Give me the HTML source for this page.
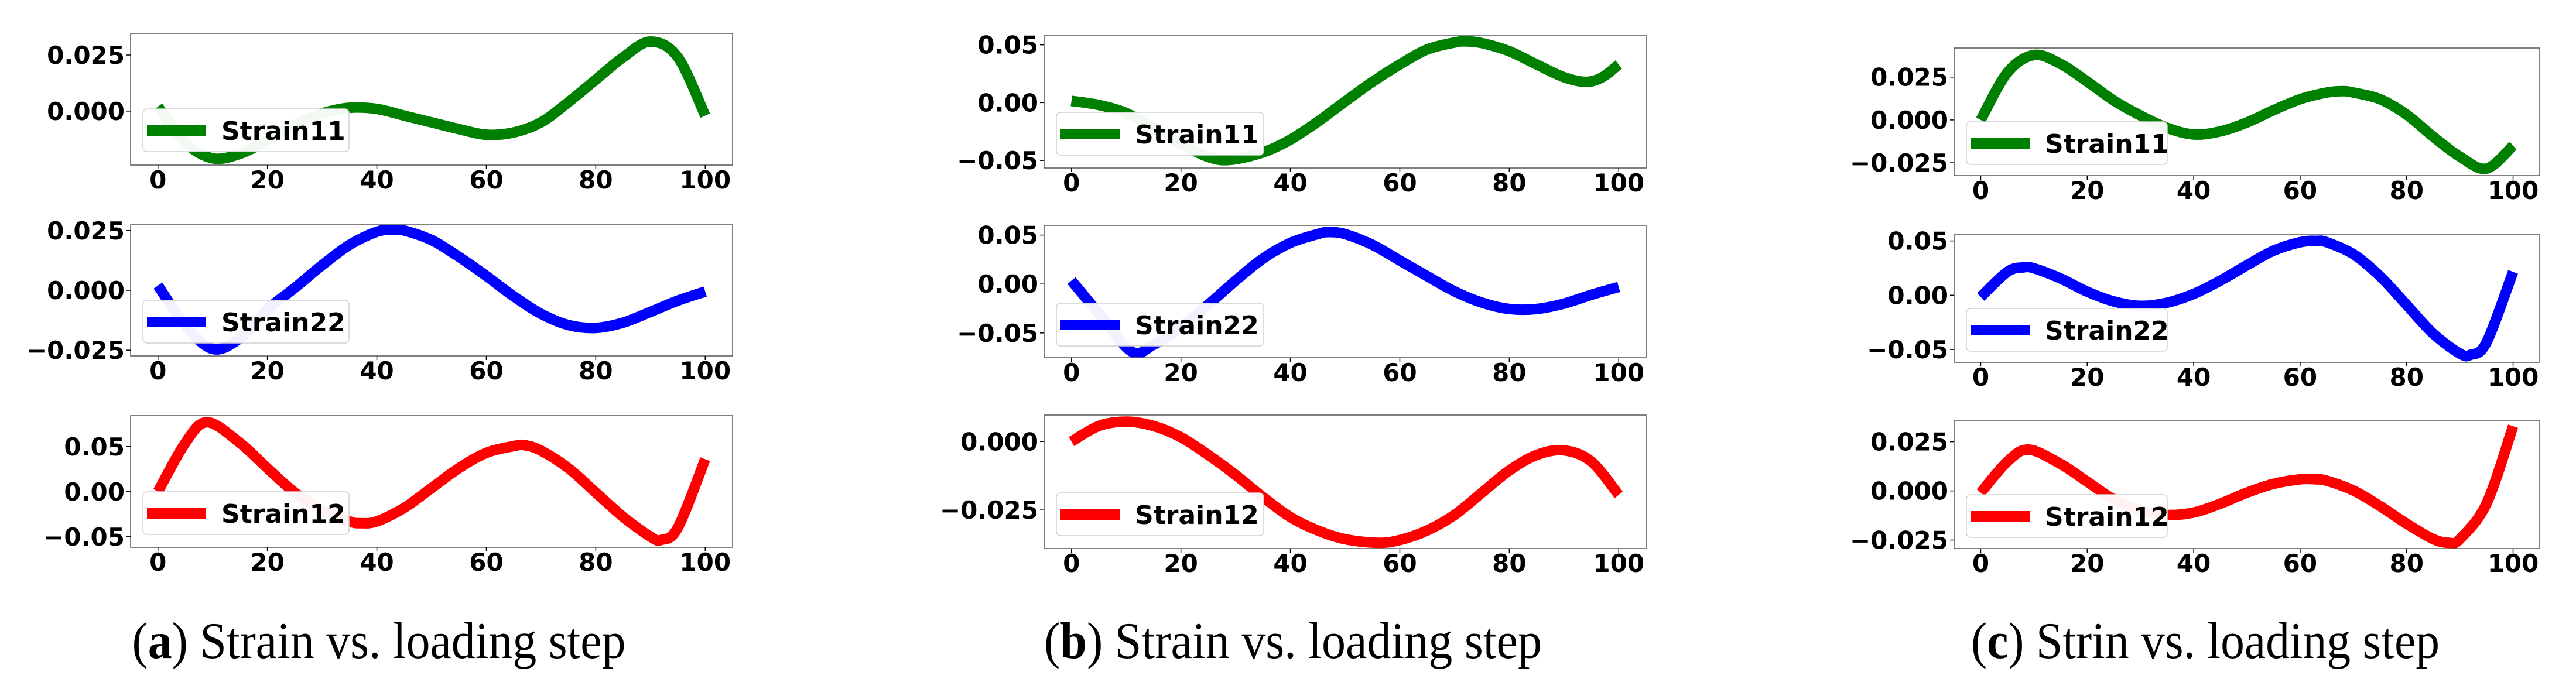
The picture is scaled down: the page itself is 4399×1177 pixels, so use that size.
<!DOCTYPE html>
<html><head><meta charset="utf-8">
<style>
html,body{margin:0;padding:0;background:#fff;}
svg{display:block;}
.tick{font-family:"DejaVu Sans","Liberation Sans",sans-serif;font-weight:bold;font-size:42px;fill:#000;}
.legt{font-family:"DejaVu Sans","Liberation Sans",sans-serif;font-weight:bold;font-size:44px;fill:#000;}
.cap{font-family:"Liberation Serif",serif;font-size:88px;fill:#000;}
</style></head>
<body>
<svg id="fig" width="4399" height="1177" viewBox="0 0 4399 1177" xmlns="http://www.w3.org/2000/svg"></svg>
<script>
// ---- data (x = loading step, y = strain) ----
const a11x=[0,5,10,15,20,25,30,35,40,45,50,55,60,65,70,75,80,85,90,95,100];
const a11y=[0.002,-0.014,-0.021,-0.019,-0.013,-0.006,-0.001,0.0015,0.001,-0.002,-0.005,-0.008,-0.0105,-0.0095,-0.005,0.004,0.014,0.024,0.031,0.024,-0.002];
const a22x=[0,5,10,15,20,25,30,35,40,43,45,50,55,60,65,70,75,80,85,90,95,100];
const a22y=[0.002,-0.0145,-0.0245,-0.020,-0.008,0.001,0.0105,0.019,0.0245,0.0253,0.025,0.021,0.014,0.006,-0.0025,-0.0098,-0.0145,-0.0157,-0.0135,-0.009,-0.0043,-0.0005];
const a12x=[0,5,9,15,20,25,30,35,37,40,45,50,55,60,65,67,70,75,80,85,90,92,95,100];
const a12y=[0,0.054,0.077,0.054,0.026,-0.001,-0.0205,-0.033,-0.035,-0.033,-0.018,0.004,0.026,0.043,0.0505,0.0515,0.0455,0.026,-0.001,-0.028,-0.050,-0.0535,-0.040,0.036];
const b11x=[0,5,10,15,20,25,29,35,40,45,50,55,60,65,70,72,75,80,85,90,94,97,100];
const b11y=[0.0015,-0.002,-0.009,-0.022,-0.0355,-0.047,-0.0495,-0.043,-0.032,-0.0165,0.001,0.018,0.033,0.046,0.052,0.053,0.0515,0.0445,0.033,0.022,0.018,0.022,0.033];
const b22x=[0,5,11,15,20,25,30,35,40,45,47,50,55,60,65,70,75,80,85,90,95,100];
const b22y=[0.0035,-0.030,-0.069,-0.062,-0.044,-0.021,0.0035,0.026,0.042,0.051,0.053,0.051,0.040,0.024,0.008,-0.0075,-0.019,-0.0255,-0.0255,-0.020,-0.011,-0.003];
const b12x=[0,5,10,15,20,25,30,35,40,45,50,56,60,65,70,75,80,85,90,95,100];
const b12y=[0,0.0057,0.0073,0.0057,0.0016,-0.0049,-0.0122,-0.0203,-0.0276,-0.0325,-0.0357,-0.037,-0.036,-0.0325,-0.0268,-0.0187,-0.0106,-0.0049,-0.0032,-0.0073,-0.0195];
const c11x=[0,5,10,15,20,25,30,35,40,45,50,55,60,65,68,70,75,80,85,90,95,100];
const c11y=[0,0.0276,0.0379,0.0327,0.0224,0.0113,0.0026,-0.0046,-0.0085,-0.0067,-0.0015,0.0057,0.0121,0.016,0.0168,0.016,0.0121,0.0031,-0.0098,-0.0214,-0.0284,-0.015];
const c22x=[0,5,8,10,15,20,25,30,35,40,45,50,55,60,63,65,70,75,80,85,90,92,95,100];
const c22y=[-0.0016,0.0215,0.0256,0.0248,0.0154,0.0033,-0.0057,-0.0098,-0.0069,0.0012,0.0134,0.0276,0.041,0.0488,0.050,0.0488,0.0378,0.0175,-0.0089,-0.0354,-0.0537,-0.0549,-0.0435,0.0215];
const c12x=[0,5,9,15,20,25,30,35,40,45,50,55,60,63,65,70,75,80,85,88,90,95,100];
const c12y=[-0.0009,0.0149,0.021,0.0137,0.0047,-0.0043,-0.0099,-0.0122,-0.011,-0.0065,-0.0009,0.0036,0.0059,0.0059,0.0052,0.0002,-0.0077,-0.0167,-0.0245,-0.0264,-0.0245,-0.0065,0.0329];
const xTicks=[0,20,40,60,80,100];
const tA11=["0.025","0.000"], tA22=["0.025","0.000","-0.025"], tA12=["0.05","0.00","-0.05"];
const tB11=["0.05","0.00","-0.05"], tB22=["0.05","0.00","-0.05"], tB12=["0.000","-0.025"];
const tC11=["0.025","0.000","-0.025"], tC22=["0.05","0.00","-0.05"], tC12=["0.025","0.000","-0.025"];
const captions=[["a","Strain vs. loading step"],["b","Strain vs. loading step"],["c","Strin vs. loading step"]];

const NS="http://www.w3.org/2000/svg";
const fig=document.getElementById('fig');
function mk(tag,attrs,parent){const e=document.createElementNS(NS,tag);for(const k in attrs)e.setAttribute(k,attrs[k]);(parent||fig).appendChild(e);return e;}

const panels=[
 {L:223,R:1251,rows:[[57,282],[384,608],[710,935]],leg:[186,513,840],lw:352,cx:647,cw:843},
 {L:1783,R:2811,rows:[[60,287],[385,611],[709,937]],leg:[192,518,842],lw:354,cx:2208,cw:850},
 {L:3337,R:4337,rows:[[82,300],[401,619],[719,937]],leg:[208,527,845],lw:343,cx:3766,cw:800}
];
const subs=[
 [[a11x,a11y,tA11,[-0.02402,0.03465]],[a22x,a22y,tA22,[-0.0274,0.0274]],[a12x,a12y,tA12,[-0.0618,0.0843]]],
 [[b11x,b11y,tB11,[-0.0565,0.0584]],[b22x,b22y,tB22,[-0.0752,0.0599]],[b12x,b12y,tB12,[-0.0391,0.0097]]],
 [[c11x,c11y,tC11,[-0.0325,0.042]],[c22x,c22y,tC22,[-0.0618,0.0557]],[c12x,c12y,tC12,[-0.0293,0.0356]]]
];
const colors=["#008000","#0000ff","#ff0000"];
const names=["Strain11","Strain22","Strain12"];
const keys=["strain11","strain22","strain12"];

function pathD(px,py){ // Catmull-Rom smoothing
 let d=`M${px[0]},${py[0]}`;
 for(let i=0;i<px.length-1;i++){
  const x0=px[Math.max(i-1,0)],y0=py[Math.max(i-1,0)],x1=px[i],y1=py[i],x2=px[i+1],y2=py[i+1],x3=px[Math.min(i+2,px.length-1)],y3=py[Math.min(i+2,px.length-1)];
  d+=` C${x1+(x2-x0)/6},${y1+(y2-y0)/6} ${x2-(x3-x1)/6},${y2-(y3-y1)/6} ${x2},${y2}`;
 }
 return d;
}

panels.forEach((P,pi)=>{
 const letter="abc"[pi];
 const g=mk('g',{});
 
 
 P.rows.forEach((row,ri)=>{
  const [xs,ys,yt,ylim]=subs[pi][ri];
  const T=row[0],B=row[1];
  const sx=v=>P.L+(v+5)/110*(P.R-P.L);
  const sy=v=>B-(v-ylim[0])/(ylim[1]-ylim[0])*(B-T);
  const sg=mk('g',{},g);
  
  
  const clip=mk('clipPath',{id:'clip'+pi+ri},sg);
  mk('rect',{x:P.L,y:T,width:P.R-P.L,height:B-T},clip);
  const line=mk('path',{d:pathD(xs.map(sx),ys.map(sy)),fill:'none',stroke:colors[ri],'stroke-width':18,'stroke-linejoin':'round','clip-path':`url(#clip${pi}${ri})`},sg);
  
  
  const fr=mk('rect',{x:P.L,y:T,width:P.R-P.L,height:B-T,fill:'none',stroke:'#555','stroke-width':1.5},sg);
  
  
  xTicks.forEach(t=>{
   const x=sx(t);
   mk('line',{x1:x,y1:B,x2:x,y2:B+7,stroke:'#000','stroke-width':1.5},sg);
   const tx=mk('text',{x:x,y:B+40,'text-anchor':'middle',class:'tick'},sg);
   tx.textContent=t;
   
   
  });
  yt.forEach(s=>{
   const v=parseFloat(s);const y=sy(v);
   mk('line',{x1:P.L-7,y1:y,x2:P.L,y2:y,stroke:'#000','stroke-width':1.5},sg);
   const tx=mk('text',{x:P.L-10,y:y+15,'text-anchor':'end',class:'tick'},sg);
   tx.textContent=s.replace('-','\u2212');
   
   
  });
  const lg=mk('g',{},sg);
  
  
  const lx=P.L+21,ly=P.leg[ri];
  mk('rect',{x:lx,y:ly,width:P.lw,height:73,rx:7,fill:'#fff','fill-opacity':0.95,stroke:'#d0d0d0','stroke-width':1.5},lg);
  mk('line',{x1:lx+7,y1:ly+37,x2:lx+108,y2:ly+37,stroke:colors[ri],'stroke-width':18},lg);
  const lt=mk('text',{x:lx+134,y:ly+53,class:'legt'},lg);
  lt.textContent=names[ri];
 });
 const cap=mk('text',{x:P.cx-P.cw/2,y:1124,class:'cap',textLength:P.cw,lengthAdjust:'spacingAndGlyphs'},g);
 
 
 const t1=mk('tspan',{},cap);t1.textContent='(';
 const t2=mk('tspan',{'font-weight':'bold'},cap);t2.textContent=captions[pi][0];
 const t3=mk('tspan',{},cap);t3.textContent=') '+captions[pi][1];
});
</script>
</body></html>
